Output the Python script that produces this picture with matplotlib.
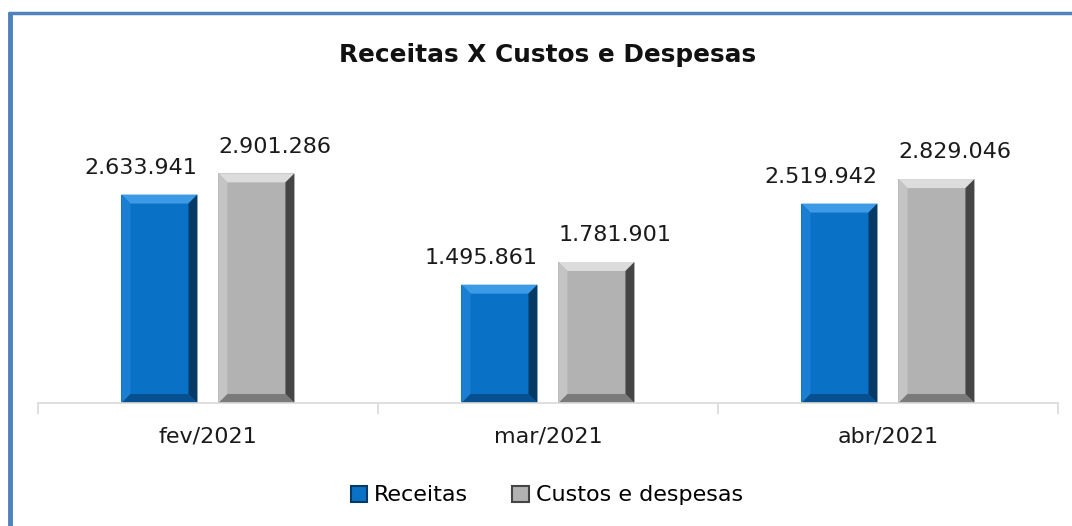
import numpy as np
import matplotlib.pyplot as plt
from matplotlib.patches import Polygon, Rectangle
from matplotlib.lines import Line2D

#%% Data
months = ['fev/2021', 'mar/2021', 'abr/2021']
receitas = [2633941, 1495861, 2519942]
custos = [2901286, 1781901, 2829046]
series_names = ['Receitas', 'Custos e despesas']

# colours: face, top, left, right, bottom
blue = ['#0A72C6', '#3D9BE6', '#1A7FD2', '#053A66', '#07508F']
gray = ['#B2B2B2', '#DCDCDC', '#C4C4C4', '#454545', '#7A7A7A']

def fmt(v):
    return f"{v:,}".replace(',', '.')

#%% Figure
fig = plt.figure(figsize=(10.72, 5.26), dpi=100)
ax = fig.add_axes([0.0354, 0.2338, 0.9515, 0.5267])
ax.set_xlim(-0.5, 2.5)
ax.set_ylim(0, 3500000)

# pixel -> data conversion for the bevel
fig.canvas.draw()
p0 = ax.transData.transform((0, 0))
p1 = ax.transData.transform((1, 1000000))
px_x = 1.0 / (p1[0] - p0[0])
px_y = 1000000.0 / (p1[1] - p0[1])

def bevel_bar(x, w, h, cols, bev=9):
    x0, x1 = x - w / 2, x + w / 2
    bx, by = bev * px_x, bev * px_y
    ax.add_patch(Rectangle((x0, 0), w, h, facecolor=cols[0], edgecolor='none'))
    # top
    ax.add_patch(Polygon([(x0, h), (x1, h), (x1 - bx, h - by), (x0 + bx, h - by)],
                         closed=True, facecolor=cols[1], edgecolor='none'))
    # left
    ax.add_patch(Polygon([(x0, 0), (x0, h), (x0 + bx, h - by), (x0 + bx, by)],
                         closed=True, facecolor=cols[2], edgecolor='none'))
    # right
    ax.add_patch(Polygon([(x1, 0), (x1, h), (x1 - bx, h - by), (x1 - bx, by)],
                         closed=True, facecolor=cols[3], edgecolor='none'))
    # bottom
    ax.add_patch(Polygon([(x0, 0), (x1, 0), (x1 - bx, by), (x0 + bx, by)],
                         closed=True, facecolor=cols[4], edgecolor='none'))

w = 0.2235
off = 0.1426
lab_off = 0.055
x = np.arange(len(months))
for i in range(len(months)):
    bevel_bar(x[i] - off, w, receitas[i], blue)
    bevel_bar(x[i] + off, w, custos[i], gray)
    ax.annotate(fmt(receitas[i]), (x[i] - off - lab_off, receitas[i]), xytext=(0, 12),
                textcoords='offset points', ha='center', va='bottom', fontsize=16,
                color='#1A1A1A')
    ax.annotate(fmt(custos[i]), (x[i] + off + lab_off, custos[i]), xytext=(0, 12),
                textcoords='offset points', ha='center', va='bottom', fontsize=16,
                color='#1A1A1A')

# axis styling
for s in ['top', 'right', 'left']:
    ax.spines[s].set_visible(False)
ax.spines['bottom'].set_color('#D9D9D9')
ax.spines['bottom'].set_linewidth(1.2)
ax.set_yticks([])
ax.set_xticks([-0.5, 0.5, 1.5, 2.5], minor=False)
ax.set_xticklabels([])
ax.tick_params(axis='x', which='major', length=8, color='#D9D9D9', width=1.2)
ax.set_xticks(x, minor=True)
ax.set_xticklabels(months, minor=True, fontsize=16, color='#1A1A1A')
ax.tick_params(axis='x', which='minor', length=0, pad=17)

fig.text(0.5105, 0.895, 'Receitas X Custos e Despesas', ha='center', va='center',
         fontsize=17.8, fontweight='bold', color='#111111')

# legend
handles = [Rectangle((0, 0), 1, 1, facecolor=blue[0], edgecolor=blue[3], lw=1.5),
           Rectangle((0, 0), 1, 1, facecolor=gray[0], edgecolor=gray[3], lw=1.5)]
fig.legend(handles, series_names, loc='center', bbox_to_anchor=(0.51, 0.058),
           ncol=2, frameon=False, fontsize=16, handlelength=0.75, handleheight=0.75,
           handletextpad=0.3, columnspacing=2.0)

# outer frame (left and top)
fig.add_artist(Line2D([0.0093, 0.0093], [0, 0.978], color='#4F81BD', lw=3.5,
                      solid_capstyle='butt', transform=fig.transFigure))
fig.add_artist(Line2D([0.0075, 1.0], [0.976, 0.976], color='#4F81BD', lw=2.5,
                      solid_capstyle='butt', transform=fig.transFigure))

fig.savefig('out.png', dpi=100)
